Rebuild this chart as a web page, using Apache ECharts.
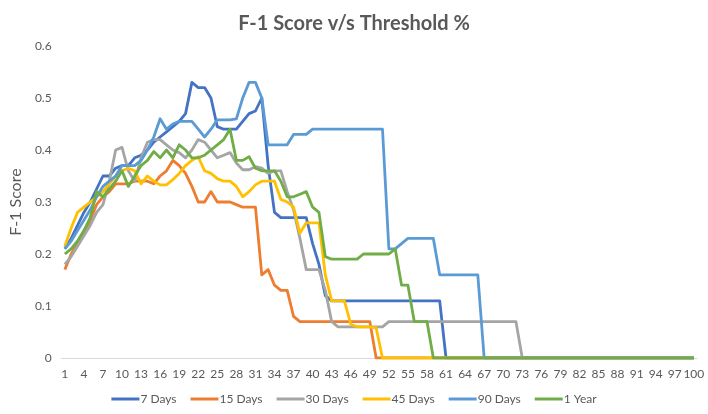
<!DOCTYPE html>
<html>
<head>
<meta charset="utf-8">
<script src="https://cdn.jsdelivr.net/npm/echarts@6/dist/echarts.min.js"></script>
<style>html,body{margin:0;padding:0;background:#fff;}#c{width:708px;height:414px;}</style>
</head>
<body>
<div id="c"></div>
<script>
const categories = [1,2,3,4,5,6,7,8,9,10,11,12,13,14,15,16,17,18,19,20,21,22,23,24,25,26,27,28,29,30,31,32,33,34,35,36,37,38,39,40,41,42,43,44,45,46,47,48,49,50,51,52,53,54,55,56,57,58,59,60,61,62,63,64,65,66,67,68,69,70,71,72,73,74,75,76,77,78,79,80,81,82,83,84,85,86,87,88,89,90,91,92,93,94,95,96,97,98,99,100];

const days7 = [0.21,0.23,0.255,0.28,0.30,0.325,0.35,0.35,0.365,0.37,0.37,0.385,0.39,0.40,0.415,0.425,0.435,0.445,0.455,0.47,0.53,0.52,0.52,0.50,0.445,0.44,0.44,0.44,0.455,0.47,0.475,0.50,0.37,0.28,0.27,0.27,0.27,0.27,0.27,0.22,0.18,0.12,0.11,0.11,0.11,0.11,0.11,0.11,0.11,0.11,0.11,0.11,0.11,0.11,0.11,0.11,0.11,0.11,0.11,0.11,0,0,0,0,0,0,0,0,0,0,0,0,0,0,0,0,0,0,0,0,0,0,0,0,0,0,0,0,0,0,0,0,0,0,0,0,0,0,0,0];

const days15 = [0.17,0.20,0.22,0.24,0.265,0.295,0.31,0.32,0.335,0.335,0.335,0.34,0.34,0.34,0.335,0.35,0.36,0.38,0.37,0.355,0.33,0.30,0.30,0.32,0.30,0.30,0.30,0.295,0.29,0.29,0.29,0.16,0.17,0.14,0.13,0.13,0.08,0.07,0.07,0.07,0.07,0.07,0.07,0.07,0.07,0.07,0.07,0.07,0.07,0,0,0,0,0,0,0,0,0,0,0,0,0,0,0,0,0,0,0,0,0,0,0,0,0,0,0,0,0,0,0,0,0,0,0,0,0,0,0,0,0,0,0,0,0,0,0,0,0,0,0];

const days30 = [0.18,0.195,0.215,0.235,0.255,0.28,0.295,0.34,0.40,0.405,0.36,0.34,0.385,0.415,0.42,0.42,0.41,0.40,0.395,0.385,0.40,0.42,0.415,0.40,0.385,0.39,0.395,0.375,0.362,0.362,0.368,0.365,0.355,0.36,0.36,0.32,0.285,0.23,0.17,0.17,0.17,0.13,0.07,0.06,0.06,0.06,0.06,0.06,0.06,0.06,0.06,0.07,0.07,0.07,0.07,0.07,0.07,0.07,0.07,0.07,0.07,0.07,0.07,0.07,0.07,0.07,0.07,0.07,0.07,0.07,0.07,0.07,0,0,0,0,0,0,0,0,0,0,0,0,0,0,0,0,0,0,0,0,0,0,0,0,0,0,0,0];

const days45 = [0.215,0.25,0.28,0.29,0.30,0.31,0.32,0.335,0.35,0.36,0.365,0.36,0.335,0.35,0.34,0.333,0.333,0.343,0.355,0.37,0.38,0.387,0.36,0.355,0.345,0.34,0.34,0.33,0.31,0.32,0.333,0.34,0.34,0.34,0.305,0.30,0.29,0.24,0.26,0.26,0.26,0.16,0.11,0.11,0.11,0.065,0.06,0.06,0.06,0.058,0,0,0,0,0,0,0,0,0,0,0,0,0,0,0,0,0,0,0,0,0,0,0,0,0,0,0,0,0,0,0,0,0,0,0,0,0,0,0,0,0,0,0,0,0,0,0,0,0,0];

const days90 = [0.21,0.225,0.245,0.265,0.285,0.31,0.33,0.34,0.35,0.37,0.37,0.37,0.38,0.40,0.425,0.46,0.44,0.45,0.455,0.455,0.455,0.44,0.425,0.44,0.458,0.458,0.458,0.46,0.50,0.53,0.53,0.50,0.41,0.41,0.41,0.41,0.43,0.43,0.43,0.44,0.44,0.44,0.44,0.44,0.44,0.44,0.44,0.44,0.44,0.44,0.44,0.21,0.21,0.22,0.23,0.23,0.23,0.23,0.23,0.16,0.16,0.16,0.16,0.16,0.16,0.16,0,0,0,0,0,0,0,0,0,0,0,0,0,0,0,0,0,0,0,0,0,0,0,0,0,0,0,0,0,0,0,0,0,0];

const year1 = [0.20,0.21,0.225,0.245,0.27,0.32,0.31,0.325,0.34,0.36,0.33,0.35,0.37,0.38,0.397,0.385,0.40,0.385,0.41,0.40,0.385,0.385,0.39,0.40,0.41,0.42,0.44,0.38,0.38,0.387,0.365,0.36,0.36,0.36,0.34,0.31,0.31,0.315,0.32,0.29,0.28,0.195,0.19,0.19,0.19,0.19,0.19,0.20,0.20,0.20,0.20,0.20,0.21,0.14,0.14,0.07,0.07,0.07,0,0,0,0,0,0,0,0,0,0,0,0,0,0,0,0,0,0,0,0,0,0,0,0,0,0,0,0,0,0,0,0,0,0,0,0,0,0,0,0,0,0];

const seriesNames = ['7 Days','15 Days','30 Days','45 Days','90 Days','1 Year'];
const seriesColors = ['#4472C4','#ED7D31','#A5A5A5','#FFC000','#5B9BD5','#70AD47'];
const seriesData = [days7, days15, days30, days45, days90, year1];

const FONT = 'Lato, "Open Sans", sans-serif';
const chart = echarts.init(document.getElementById('c'), null, {renderer: 'canvas'});
chart.setOption({
  animation: false,
  backgroundColor: '#ffffff',
  title: {
    text: 'F-1 Score v/s Threshold %',
    left: 'center',
    top: 9,
    textStyle: {fontFamily: FONT, fontSize: 20, fontWeight: 'bold', color: '#595959'}
  },
  legend: {
    bottom: 4,
    left: 'center',
    icon: 'rect',
    itemWidth: 28,
    itemHeight: 3,
    itemGap: 14,
    textStyle: {fontFamily: FONT, fontSize: 12, color: '#595959', padding: [0,0,0,-4]},
    data: seriesNames
  },
  grid: {left: 54, right: 11, top: 46, bottom: 56, containLabel: false},
  xAxis: {
    type: 'category',
    data: categories,
    boundaryGap: true,
    axisTick: {show: false},
    axisLine: {lineStyle: {color: '#d9d9d9', width: 1}},
    axisLabel: {interval: 2, color: '#595959', fontFamily: FONT, fontSize: 12, margin: 10}
  },
  yAxis: {
    type: 'value',
    min: 0,
    max: 0.6,
    interval: 0.1,
    name: 'F-1 Score',
    nameLocation: 'middle',
    nameGap: 32,
    nameRotate: 90,
    nameTextStyle: {fontFamily: FONT, fontSize: 16, color: '#595959'},
    splitLine: {show: false},
    axisLine: {show: false},
    axisTick: {show: false},
    axisLabel: {color: '#595959', fontFamily: FONT, fontSize: 12, margin: 10}
  },
  series: seriesNames.map((n, k) => ({
    name: n,
    type: 'line',
    data: seriesData[k],
    symbol: 'none',
    showSymbol: false,
    lineStyle: {width: 2.8, color: seriesColors[k], join: 'round'},
    itemStyle: {color: seriesColors[k]}
  }))
});
</script>
</body>
</html>
